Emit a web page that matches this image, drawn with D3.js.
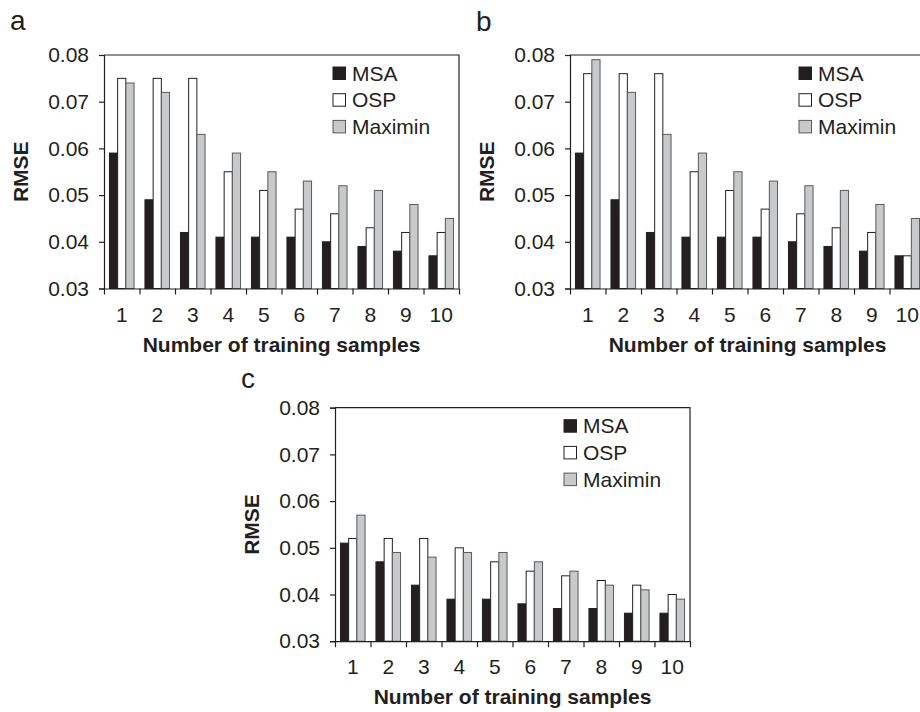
<!DOCTYPE html>
<html>
<head>
<meta charset="utf-8">
<script src="https://cdn.jsdelivr.net/npm/d3@7/dist/d3.min.js"></script>
<style>
  body { margin: 0; background: #fff; }
  svg { display: block; }
  text { font-family: 'Liberation Sans', Arial, sans-serif; fill: #231f20; }
  .axis path, .axis line { stroke: #231f20; stroke-width: 1.2px; }
  .axis text { font-size: 21px; }
  .axis-title { font-size: 21px; font-weight: bold; }
  .legend text { font-size: 21px; }
  .panel-letter { font-size: 28px; }
</style>
</head>
<body>
<div id="chart"></div>
<script>
// ---- data ----
var samples = ['1', '2', '3', '4', '5', '6', '7', '8', '9', '10'];
var methods = ['MSA', 'OSP', 'Maximin'];
var yTicks = [0.03, 0.04, 0.05, 0.06, 0.07, 0.08];

var msaA     = [0.059, 0.049, 0.042, 0.041, 0.041, 0.041, 0.040, 0.039, 0.038, 0.037];
var ospA     = [0.075, 0.075, 0.075, 0.055, 0.051, 0.047, 0.046, 0.043, 0.042, 0.042];
var maximinA = [0.074, 0.072, 0.063, 0.059, 0.055, 0.053, 0.052, 0.051, 0.048, 0.045];

var msaB     = [0.059, 0.049, 0.042, 0.041, 0.041, 0.041, 0.040, 0.039, 0.038, 0.037];
var ospB     = [0.076, 0.076, 0.076, 0.055, 0.051, 0.047, 0.046, 0.043, 0.042, 0.037];
var maximinB = [0.079, 0.072, 0.063, 0.059, 0.055, 0.053, 0.052, 0.051, 0.048, 0.045];

var msaC     = [0.051, 0.047, 0.042, 0.039, 0.039, 0.038, 0.037, 0.037, 0.036, 0.036];
var ospC     = [0.052, 0.052, 0.052, 0.050, 0.047, 0.045, 0.044, 0.043, 0.042, 0.040];
var maximinC = [0.057, 0.049, 0.048, 0.049, 0.049, 0.047, 0.045, 0.042, 0.041, 0.039];

var fills   = { MSA: '#231f20', OSP: '#ffffff', Maximin: '#c8c9ca' };
var strokes = { MSA: '#231f20', OSP: '#231f20', Maximin: '#58595b' };

var panels = [
    { letter: 'a', left: 104, top: 55,    letterDy: -25, series: [msaA, ospA, maximinA] },
    { letter: 'b', left: 570, top: 55,    letterDy: -24, series: [msaB, ospB, maximinB] },
    { letter: 'c', left: 335, top: 407.7, letterDy: -19.5, series: [msaC, ospC, maximinC] }
];

var width = 355, height = 233.5;

var svg = d3.select('#chart')
    .append('svg')
    .attr('width', 920)
    .attr('height', 712);

panels.forEach(function(p) {
    var g = svg.append('g')
        .attr('transform', 'translate(' + p.left + ',' + p.top + ')');

    var x = d3.scaleBand()
        .domain(samples)
        .range([0, width])
        .paddingInner(0.307)
        .paddingOuter(0.1535);

    var x1 = d3.scaleBand()
        .domain(methods)
        .range([0, x.bandwidth()]);

    var xEdge = d3.scaleLinear()
        .domain([0, samples.length])
        .range([0, width]);

    var y = d3.scaleLinear()
        .domain([0.03, 0.08])
        .range([height, 0]);

    // frame (top and right)
    g.append('path')
        .attr('d', 'M0,0H' + width + 'V' + height)
        .attr('fill', 'none')
        .attr('stroke', '#231f20')
        .attr('stroke-width', 1.2);

    // bars
    var rows = samples.map(function(s, i) {
        return { sample: s, values: methods.map(function(m, k) {
            return { method: m, value: p.series[k][i] };
        }) };
    });

    var group = g.selectAll('.group')
        .data(rows)
        .enter()
        .append('g')
        .attr('class', 'group')
        .attr('transform', function(d) { return 'translate(' + x(d.sample) + ',0)'; });

    group.selectAll('rect')
        .data(function(d) { return d.values; })
        .enter()
        .append('rect')
        .attr('x', function(d) { return x1(d.method); })
        .attr('y', function(d) { return y(d.value); })
        .attr('width', x1.bandwidth())
        .attr('height', function(d) { return height - y(d.value); })
        .attr('fill', function(d) { return fills[d.method]; })
        .attr('stroke', function(d) { return strokes[d.method]; })
        .attr('stroke-width', 1);

    // y axis
    g.append('g')
        .attr('class', 'axis')
        .call(d3.axisLeft(y)
            .tickValues(yTicks)
            .tickFormat(d3.format('.2f'))
            .tickSize(5)
            .tickPadding(10));

    // x axis: tick marks at group edges, labels at group centres
    g.append('g')
        .attr('class', 'axis')
        .attr('transform', 'translate(0,' + height + ')')
        .call(d3.axisBottom(xEdge)
            .tickValues(d3.range(samples.length + 1))
            .tickFormat('')
            .tickSize(6)
            .tickSizeOuter(0));

    g.append('g')
        .attr('class', 'axis')
        .selectAll('text')
        .data(samples)
        .enter()
        .append('text')
        .attr('x', function(d) { return x(d) + x.bandwidth() / 2; })
        .attr('y', height + 33)
        .attr('text-anchor', 'middle')
        .text(function(d) { return d; });

    // axis titles
    g.append('text')
        .attr('class', 'axis-title')
        .attr('x', width / 2)
        .attr('y', height + 63)
        .attr('text-anchor', 'middle')
        .text('Number of training samples');

    g.append('text')
        .attr('class', 'axis-title')
        .attr('transform', 'translate(-76,' + (height / 2) + ') rotate(-90)')
        .attr('text-anchor', 'middle')
        .text('RMSE');

    // panel letter
    g.append('text')
        .attr('class', 'panel-letter')
        .attr('x', -94)
        .attr('y', p.letterDy)
        .text(p.letter);

    // legend
    var legend = g.append('g')
        .attr('class', 'legend')
        .attr('transform', 'translate(229,12)');

    var item = legend.selectAll('.item')
        .data(methods)
        .enter()
        .append('g')
        .attr('class', 'item')
        .attr('transform', function(d, i) { return 'translate(0,' + (i * 26.7) + ')'; });

    item.append('rect')
        .attr('width', 12.5)
        .attr('height', 12.5)
        .attr('fill', function(d) { return fills[d]; })
        .attr('stroke', function(d) { return strokes[d]; })
        .attr('stroke-width', 1);

    item.append('text')
        .attr('x', 19)
        .attr('y', 13.5)
        .text(function(d) { return d; });
});
</script>
</body>
</html>
